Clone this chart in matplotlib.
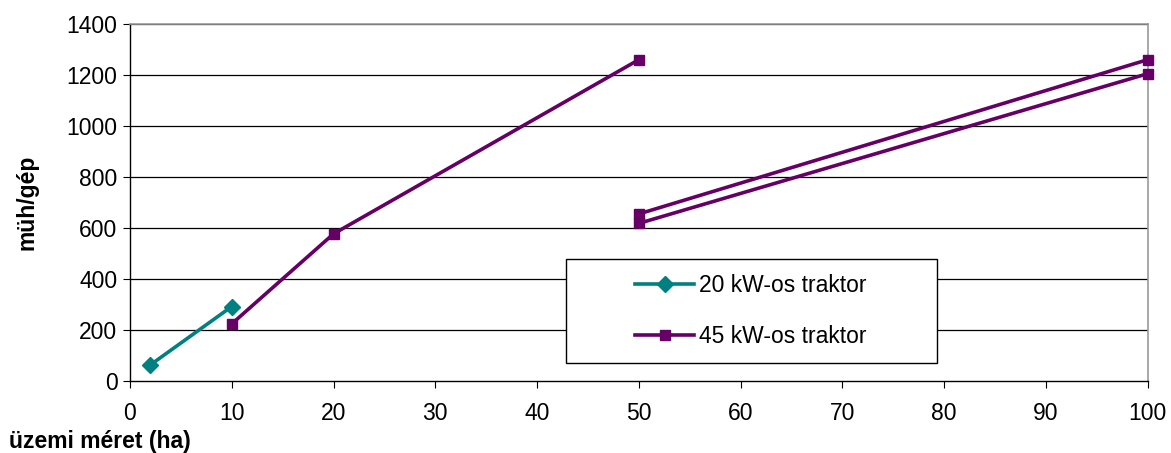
import matplotlib
matplotlib.use('Agg')
from matplotlib import pyplot as plt
from matplotlib.patches import Rectangle

plt.rcParams['font.family'] = ['Liberation Sans', 'DejaVu Sans']

# 20 kW-os traktor
x_20 = [2, 10]
y_20 = [63, 292]

# 45 kW-os traktor (three separate segments)
x_45_a = [10, 20, 50]
y_45_a = [224, 577, 1260]
x_45_b = [50, 100]
y_45_b = [655, 1260]
x_45_c = [50, 100]
y_45_c = [618, 1205]

x_ticks = [0, 10, 20, 30, 40, 50, 60, 70, 80, 90, 100]
y_ticks = [0, 200, 400, 600, 800, 1000, 1200, 1400]

teal = '#008080'
purple = '#660066'
fs = 16.5

fig = plt.figure(figsize=(11.71, 4.53), dpi=100)
ax = fig.add_axes([0.111, 0.159, 0.869, 0.788])

for yt in y_ticks[1:]:
    ax.axhline(yt, color='black', linewidth=0.9, zorder=1)

ax.plot(x_20, y_20, color=teal, linewidth=2.6, marker='D', markersize=8.5,
        label='20 kW-os traktor', zorder=3, clip_on=False)
ax.plot(x_45_a, y_45_a, color=purple, linewidth=2.6, marker='s', markersize=7.5,
        label='45 kW-os traktor', zorder=3, clip_on=False)
ax.plot(x_45_b, y_45_b, color=purple, linewidth=2.6, marker='s', markersize=7.5,
        zorder=3, clip_on=False)
ax.plot(x_45_c, y_45_c, color=purple, linewidth=2.6, marker='s', markersize=7.5,
        zorder=3, clip_on=False)

ax.set_xlim(0, 100)
ax.set_ylim(0, 1400)
ax.set_xticks(x_ticks)
ax.set_yticks(y_ticks)
ax.tick_params(axis='both', labelsize=fs, direction='out', length=5, color='black')
ax.tick_params(axis='x', pad=10)
ax.tick_params(axis='y', pad=4)

for side in ['top', 'right']:
    ax.spines[side].set_color('#999999')
    ax.spines[side].set_linewidth(1.2)
for side in ['left', 'bottom']:
    ax.spines[side].set_color('black')
    ax.spines[side].set_linewidth(1.0)

ax.set_ylabel('müh/gép', fontsize=fs, fontweight='bold')
ax.yaxis.set_label_coords(-0.090, 0.5)
fig.text(0.008, 0.0, 'üzemi méret (ha)', fontsize=fs, fontweight='bold',
         va='bottom')

# legend frame
box = Rectangle((0.428, 0.05), 0.365, 0.292, transform=ax.transAxes,
                facecolor='white', edgecolor='black', linewidth=1.0, zorder=4)
ax.add_patch(box)

leg = ax.legend(loc='center', bbox_to_anchor=(0.61, 0.196), fontsize=fs,
                frameon=False, labelspacing=1.2, handlelength=2.6,
                handletextpad=0.2, borderaxespad=0)
leg.set_zorder(5)

plt.savefig('out.png', dpi=100)
